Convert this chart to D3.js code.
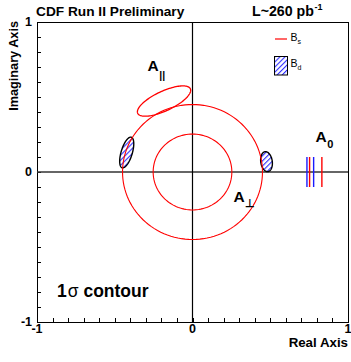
<!DOCTYPE html>
<html>
<head>
<meta charset="utf-8">
<script src="https://cdn.jsdelivr.net/npm/d3@7"></script>
<style>
  body { margin: 0; background: #fff; }
  svg { display: block; font-family: "Liberation Sans", Arial, Helvetica, sans-serif; }
</style>
</head>
<body>
<svg id="chart" width="351" height="362"></svg>
<script>
// ---- axis definition ----
const axisDomain = [-1, 1];
const majorTickValues = [-1, 0, 1];
const majorTickLabels = ["-1", "0", "1"];
const minorTickStep = 0.1;

// ---- B_s contours ----
// |A_perp| rings (phase free): inner and outer radius
const bsPerpRadii = [0.253, 0.45];
// A_parallel contour: centre x, centre y, semi-major, semi-minor, angle (deg)
const bsParEllipse = [-0.183, 0.473, 0.188, 0.065, 26];
// A_0 interval on the real axis
const a0Bs = [0.753, 0.832];

// ---- B_d contours ----
const bdEllipses = [
  [-0.423, 0.130, 0.106, 0.036, 74],
  [0.476, 0.069, 0.067, 0.037, 98]
];
const a0Bd = [0.736, 0.779];
const a0HalfHeight = 0.1;

// ---- texts ----
const titleLeft = "CDF Run II Preliminary";
const titleLumi = "L~260 pb";
const titleLumiSup = "-1";
const xTitle = "Real Axis";
const yTitle = "Imaginary Axis";
const legendNames = ["B", "B"];
const legendSubs = ["s", "d"];

const svg = d3.select("#chart");
const frame = { left: 37, right: 348, top: 22, bottom: 322 };

const x = d3.scaleLinear().domain(axisDomain).range([frame.left, frame.right]);
const y = d3.scaleLinear().domain(axisDomain).range([frame.bottom, frame.top]);

// hatch pattern for the B_d contours
const defs = svg.append("defs");
const pat = defs.append("pattern")
  .attr("id", "hatch")
  .attr("patternUnits", "userSpaceOnUse")
  .attr("width", 3.6).attr("height", 3.6)
  .attr("patternTransform", "rotate(45)");
pat.append("rect").attr("width", 3.6).attr("height", 3.6).attr("fill", "#fff");
pat.append("line")
  .attr("x1", 0.5).attr("y1", 0).attr("x2", 0.5).attr("y2", 3.6)
  .attr("stroke", "#2b2bff").attr("stroke-width", 1.2);

// frame
svg.append("rect")
  .attr("x", frame.left).attr("y", frame.top)
  .attr("width", frame.right - frame.left).attr("height", frame.bottom - frame.top)
  .attr("fill", "none").attr("stroke", "#000").attr("stroke-width", 1)
  .attr("shape-rendering", "crispEdges");

// minor + major ticks, drawn inward
const tickVals = d3.range(Math.round((axisDomain[1] - axisDomain[0]) / minorTickStep) + 1)
  .map(i => axisDomain[0] + i * minorTickStep);

const gx = svg.append("g").attr("transform", `translate(0,${frame.bottom})`)
  .call(d3.axisBottom(x).tickValues(tickVals).tickSize(-4).tickFormat(""));
const gy = svg.append("g").attr("transform", `translate(${frame.left},0)`)
  .call(d3.axisLeft(y).tickValues(tickVals).tickSize(-4).tickFormat(""));
[gx, gy].forEach(g => {
  g.select(".domain").remove();
  g.selectAll("line").attr("stroke", "#000").attr("shape-rendering", "crispEdges");
});

// tick labels
svg.append("g").selectAll("text").data(majorTickValues).join("text")
  .attr("x", d => x(d)).attr("y", frame.bottom + 10.5)
  .attr("text-anchor", "middle")
  .attr("font-size", 12.5).attr("font-weight", "bold")
  .text((d, i) => majorTickLabels[i]);
svg.append("g").selectAll("text").data(majorTickValues).join("text")
  .attr("x", frame.left - 5).attr("y", d => y(d) + 3.5)
  .attr("text-anchor", "end")
  .attr("font-size", 12.5).attr("font-weight", "bold")
  .text((d, i) => majorTickLabels[i]);

// axes through the origin
svg.append("line")
  .attr("x1", frame.left).attr("x2", frame.right)
  .attr("y1", y(0)).attr("y2", y(0))
  .attr("stroke", "#333").attr("stroke-width", 1.4);
svg.append("line")
  .attr("x1", x(0)).attr("x2", x(0))
  .attr("y1", frame.top).attr("y2", frame.bottom)
  .attr("stroke", "#000").attr("stroke-width", 1.2);

// ellipse outline in data space, mapped through the scales
const angles = d3.range(0, 360, 3).map(a => a * Math.PI / 180);
const line = d3.line().x(p => x(p[0])).y(p => y(p[1])).curve(d3.curveLinearClosed);
function ellipsePts([cx, cy, a, b, deg]) {
  const phi = deg * Math.PI / 180;
  return angles.map(t => [
    cx + a * Math.cos(t) * Math.cos(phi) - b * Math.sin(t) * Math.sin(phi),
    cy + a * Math.cos(t) * Math.sin(phi) + b * Math.sin(t) * Math.cos(phi)
  ]);
}

// B_d hatched contours
svg.append("g").selectAll("path").data(bdEllipses).join("path")
  .attr("d", d => line(ellipsePts(d)))
  .attr("fill", "url(#hatch)")
  .attr("stroke", "#000").attr("stroke-width", 1.4);

// B_s contours
svg.append("g").selectAll("path").data(bsPerpRadii).join("path")
  .attr("d", r => line(ellipsePts([0, 0, r, r, 0])))
  .attr("fill", "none").attr("stroke", "#ff0000").attr("stroke-width", 1.1);
svg.append("path")
  .attr("d", line(ellipsePts(bsParEllipse)))
  .attr("fill", "none").attr("stroke", "#ff0000").attr("stroke-width", 1.3);

// A_0 intervals
const a0Lines = [
  ...a0Bd.map(v => ({ v, c: "#1a1aff" })),
  ...a0Bs.map(v => ({ v, c: "#ff0000" }))
];
svg.append("g").selectAll("line").data(a0Lines).join("line")
  .attr("x1", d => x(d.v)).attr("x2", d => x(d.v))
  .attr("y1", y(a0HalfHeight)).attr("y2", y(-a0HalfHeight))
  .attr("stroke", d => d.c).attr("stroke-width", 1.4);

// amplitude labels
function ampLabel(px, py, sub, subSize, subDy) {
  const t = svg.append("text").attr("x", px).attr("y", py)
    .attr("font-size", 15.5).attr("font-weight", "bold").attr("fill", "#000");
  t.append("tspan").text("A");
  t.append("tspan").attr("font-size", subSize).attr("dy", subDy).attr("dx", 0.5).text(sub);
}
ampLabel(147.5, 71, "||", 10.5, 8);
ampLabel(315.5, 142, "0", 11, 5.5);
ampLabel(233.5, 202, "\u22a5", 11, 5);

// 1 sigma label
const sig = svg.append("text").attr("x", 57).attr("y", 297)
  .attr("font-size", 17.5).attr("font-weight", "bold");
sig.append("tspan").text("1");
sig.append("tspan").attr("font-weight", "normal").attr("dx", 1).text("\u03c3");
sig.append("tspan").text(" contour");

// titles
svg.append("text").attr("x", 36).attr("y", 15.5)
  .attr("font-size", 13.7).attr("font-weight", "bold").text(titleLeft);
const lumi = svg.append("text").attr("x", 252).attr("y", 15.5)
  .attr("font-size", 14.2).attr("font-weight", "bold");
lumi.append("tspan").text(titleLumi);
lumi.append("tspan").attr("font-size", 9).attr("dy", -6).attr("dx", 0.5).text(titleLumiSup);

svg.append("text").attr("x", 348).attr("y", 347)
  .attr("text-anchor", "end")
  .attr("font-size", 13.3).attr("font-weight", "bold").text(xTitle);
svg.append("text")
  .attr("transform", "translate(18,21) rotate(-90)")
  .attr("text-anchor", "end")
  .attr("font-size", 12.7).attr("font-weight", "bold").text(yTitle);

// legend
const lg = svg.append("g");
lg.append("line").attr("x1", 275).attr("x2", 287).attr("y1", 39).attr("y2", 39)
  .attr("stroke", "#ff0000").attr("stroke-width", 1.2);
lg.append("rect").attr("x", 274.5).attr("y", 56.5).attr("width", 13).attr("height", 18.5)
  .attr("fill", "url(#hatch)").attr("stroke", "#000").attr("stroke-width", 1);
[41, 67].forEach((by, i) => {
  const t = lg.append("text").attr("x", 290.5).attr("y", by).attr("font-size", 10.5);
  t.append("tspan").text(legendNames[i]);
  t.append("tspan").attr("font-size", 7).attr("dy", 2.5).text(legendSubs[i]);
});
</script>
</body>
</html>
